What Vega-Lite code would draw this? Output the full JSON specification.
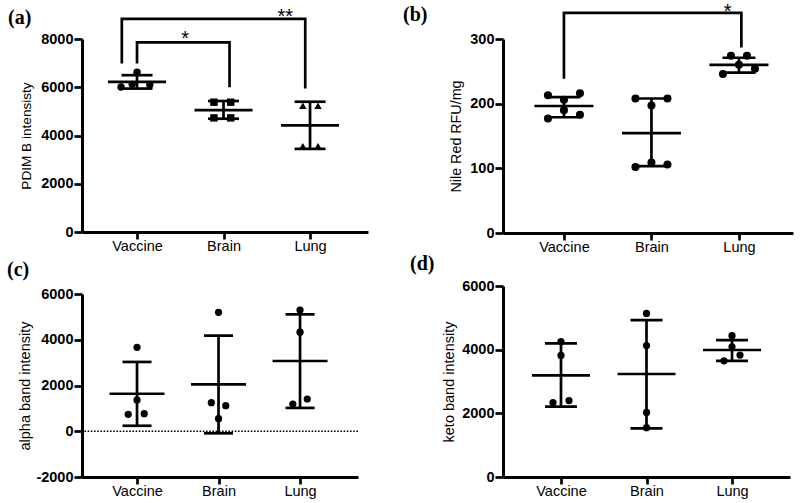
{
  "$schema": "https://vega.github.io/schema/vega-lite/v6.json",
  "autosize": {"type": "none"},
  "padding": {"left": 82, "top": 39, "right": 718, "bottom": 464},
  "background": "white",
  "spacing": 35,
  "config": {
    "view": {"stroke": null},
    "axis": {"grid": false, "domainColor": "black", "domainWidth": 3, "tickColor": "black", "tickWidth": 2.7, "tickSize": 8, "labelColor": "black", "labelFont": "Liberation Sans", "labelFontSize": 14.5, "titleFont": "Liberation Sans", "titleFontSize": 14.5, "titleFontWeight": "normal", "titleColor": "black", "labelPadding": 1},
    "axisY": {"labelFontWeight": "bold", "format": "d"},
    "axisX": {"labelPadding": 0, "tickSize": 7, "labelAngle": 0},
    "title": {"font": "Liberation Serif", "fontWeight": "bold", "fontSize": 20, "anchor": "start", "frame": "group", "baseline": "alphabetic", "offset": 6, "color": "black"}
  },
  "hconcat": [
    {
      "bounds": "flush",
      "spacing": 62,
      "vconcat": [
        {
          "width": 286, "height": 193,
          "title": {"text": "(a)", "dx": -74, "dy": 27},
          "data": {"values": [
            {"k": "sd", "group": "Vaccine", "v": 5945, "v2": 6500},
            {"k": "sd", "group": "Brain", "v": 4695, "v2": 5430},
            {"k": "sd", "group": "Lung", "v": 3445, "v2": 5400},
            {"k": "mean", "group": "Vaccine", "v": 6220},
            {"k": "mean", "group": "Brain", "v": 5050},
            {"k": "mean", "group": "Lung", "v": 4420},
            {"k": "cap", "group": "Vaccine", "v": 5945},
            {"k": "cap", "group": "Vaccine", "v": 6500},
            {"k": "cap", "group": "Brain", "v": 4695},
            {"k": "cap", "group": "Brain", "v": 5430},
            {"k": "cap", "group": "Lung", "v": 3445},
            {"k": "cap", "group": "Lung", "v": 5400},
            {"k": "pt", "group": "Vaccine", "dx": 0, "v": 6620},
            {"k": "pt", "group": "Vaccine", "dx": -2, "v": 6010},
            {"k": "pt", "group": "Vaccine", "dx": -0.6, "v": 6120},
            {"k": "pt", "group": "Vaccine", "dx": 1.6, "v": 6100},
            {"k": "pt", "group": "Brain", "dx": -1.2, "v": 5380},
            {"k": "pt", "group": "Brain", "dx": 0.9, "v": 5380},
            {"k": "pt", "group": "Brain", "dx": -1.2, "v": 4730},
            {"k": "pt", "group": "Brain", "dx": 0.9, "v": 4730},
            {"k": "pt", "group": "Lung", "dx": -0.9, "v": 5230},
            {"k": "pt", "group": "Lung", "dx": 1, "v": 5230},
            {"k": "pt", "group": "Lung", "dx": -0.9, "v": 3560},
            {"k": "pt", "group": "Lung", "dx": 1, "v": 3560},
            {"k": "br", "id": "VL", "o": 1, "group": "Vaccine", "dx": -1.9, "v": 7042},
            {"k": "br", "id": "VL", "o": 2, "group": "Vaccine", "dx": -1.9, "v": 8833},
            {"k": "br", "id": "VL", "o": 3, "group": "Lung", "dx": -0.6, "v": 8833},
            {"k": "br", "id": "VL", "o": 4, "group": "Lung", "dx": -0.6, "v": 6000},
            {"k": "br", "id": "VB", "o": 1, "group": "Vaccine", "dx": 0, "v": 7042},
            {"k": "br", "id": "VB", "o": 2, "group": "Vaccine", "dx": 0, "v": 7862},
            {"k": "br", "id": "VB", "o": 3, "group": "Brain", "dx": 0.75, "v": 7862},
            {"k": "br", "id": "VB", "o": 4, "group": "Brain", "dx": 0.75, "v": 6054},
            {"k": "star", "group": "Lung", "dx": -3.1, "v": 8663, "t": "**"},
            {"k": "star", "group": "Vaccine", "dx": 6, "v": 7760, "t": "*"}
          ]},
          "encoding": {"y": {"field": "v", "type": "quantitative", "scale": {"domain": [0, 8000], "nice": false, "zero": false}, "axis": {"values": [0, 2000, 4000, 6000, 8000], "labelFontWeight": "bold", "title": "PDIM B intensisty", "titleX": -49, "titleFontSize": 13.6}}},
          "layer": [
            {"transform": [{"filter": "datum.k == 'sd'"}], "mark": {"type": "rule", "strokeWidth": 2.7, "color": "black"},
             "encoding": {"x": {"field": "group", "type": "nominal", "sort": ["Vaccine", "Brain", "Lung"], "scale": {"type": "point", "padding": 0.653, "align": 0.487}, "axis": {"title": null}}, "y2": {"field": "v2"}}},
            {"transform": [{"filter": "datum.k == 'mean'"}], "mark": {"type": "tick", "orient": "horizontal", "size": 58, "thickness": 2.7, "color": "black", "opacity": 1},
             "encoding": {"x": {"field": "group", "type": "nominal", "sort": ["Vaccine", "Brain", "Lung"], "scale": {"type": "point", "padding": 0.653, "align": 0.487}, "axis": {"title": null}}}},
            {"transform": [{"filter": "datum.k == 'cap'"}], "mark": {"type": "tick", "orient": "horizontal", "size": 31, "thickness": 2.7, "color": "black", "opacity": 1},
             "encoding": {"x": {"field": "group", "type": "nominal", "sort": ["Vaccine", "Brain", "Lung"], "scale": {"type": "point", "padding": 0.653, "align": 0.487}, "axis": {"title": null}}}},
            {"transform": [{"filter": "datum.k == 'pt'"}], "mark": {"type": "point", "filled": true, "size": 55, "color": "black", "opacity": 1},
             "encoding": {"x": {"field": "group", "type": "nominal", "sort": ["Vaccine", "Brain", "Lung"], "scale": {"type": "point", "padding": 0.653, "align": 0.487}, "axis": {"title": null}},
               "xOffset": {"field": "dx", "type": "quantitative", "scale": {"domain": [-1, 1], "range": [-8, 8]}},
               "shape": {"field": "group", "type": "nominal", "scale": {"domain": ["Vaccine", "Brain", "Lung"], "range": ["circle", "square", "triangle-up"]}, "legend": null}}},
            {"transform": [{"filter": "datum.k == 'br'"}], "mark": {"type": "line", "strokeWidth": 2.7, "color": "black", "strokeJoin": "miter", "strokeCap": "square"},
             "encoding": {"x": {"field": "group", "type": "nominal", "sort": ["Vaccine", "Brain", "Lung"], "scale": {"type": "point", "padding": 0.653, "align": 0.487}, "axis": {"title": null}},
               "xOffset": {"field": "dx", "type": "quantitative", "scale": {"domain": [-1, 1], "range": [-8, 8]}},
               "detail": {"field": "id"}, "order": {"field": "o"}}},
            {"transform": [{"filter": "datum.k == 'star'"}], "mark": {"type": "text", "fontSize": 20, "font": "Liberation Sans", "baseline": "alphabetic", "align": "center", "color": "black"},
             "encoding": {"x": {"field": "group", "type": "nominal", "sort": ["Vaccine", "Brain", "Lung"], "scale": {"type": "point", "padding": 0.653, "align": 0.487}, "axis": {"title": null}},
               "xOffset": {"field": "dx", "type": "quantitative", "scale": {"domain": [-1, 1], "range": [-8, 8]}},
               "text": {"field": "t"}}}
          ]
        },
        {
          "width": 276, "height": 183,
          "title": {"text": "(c)", "dx": -75, "dy": 0},
          "data": {"values": [
            {"k": "zero", "v": 0},
            {"k": "sd", "group": "Vaccine", "v": 240, "v2": 3030},
            {"k": "sd", "group": "Brain", "v": -90, "v2": 4180},
            {"k": "sd", "group": "Lung", "v": 1020, "v2": 5110},
            {"k": "mean", "group": "Vaccine", "v": 1640},
            {"k": "mean", "group": "Brain", "v": 2050},
            {"k": "mean", "group": "Lung", "v": 3070},
            {"k": "cap", "group": "Vaccine", "v": 240},
            {"k": "cap", "group": "Vaccine", "v": 3030},
            {"k": "cap", "group": "Brain", "v": -90},
            {"k": "cap", "group": "Brain", "v": 4180},
            {"k": "cap", "group": "Lung", "v": 1020},
            {"k": "cap", "group": "Lung", "v": 5110},
            {"k": "pt", "group": "Vaccine", "dx": 0, "v": 3670},
            {"k": "pt", "group": "Vaccine", "dx": 0, "v": 1370},
            {"k": "pt", "group": "Vaccine", "dx": -1.1, "v": 740},
            {"k": "pt", "group": "Vaccine", "dx": 0.9, "v": 770},
            {"k": "pt", "group": "Brain", "dx": 0, "v": 5200},
            {"k": "pt", "group": "Brain", "dx": -0.9, "v": 1250},
            {"k": "pt", "group": "Brain", "dx": 0.9, "v": 1120},
            {"k": "pt", "group": "Brain", "dx": 0, "v": 550},
            {"k": "pt", "group": "Lung", "dx": 0, "v": 5300},
            {"k": "pt", "group": "Lung", "dx": 0, "v": 4330},
            {"k": "pt", "group": "Lung", "dx": -0.9, "v": 1190},
            {"k": "pt", "group": "Lung", "dx": 0.9, "v": 1410}
          ]},
          "encoding": {"y": {"field": "v", "type": "quantitative", "scale": {"domain": [-2000, 6000], "nice": false, "zero": false}, "axis": {"values": [-2000, 0, 2000, 4000, 6000], "labelExpr": "'' + datum.value", "labelFontWeight": "bold", "title": "alpha band intensity", "titleX": -50}}},
          "layer": [
            {"transform": [{"filter": "datum.k == 'zero'"}], "mark": {"type": "rule", "strokeWidth": 1.6, "strokeDash": [1.6, 1.6], "color": "black"}, "encoding": {}},
            {"transform": [{"filter": "datum.k == 'sd'"}], "mark": {"type": "rule", "strokeWidth": 2.7, "color": "black"},
             "encoding": {"x": {"field": "group", "type": "nominal", "sort": ["Vaccine", "Brain", "Lung"], "scale": {"type": "point", "padding": 0.693, "align": 0.487}, "axis": {"title": null}}, "y2": {"field": "v2"}}},
            {"transform": [{"filter": "datum.k == 'mean'"}], "mark": {"type": "tick", "orient": "horizontal", "size": 55, "thickness": 2.7, "color": "black", "opacity": 1},
             "encoding": {"x": {"field": "group", "type": "nominal", "sort": ["Vaccine", "Brain", "Lung"], "scale": {"type": "point", "padding": 0.693, "align": 0.487}, "axis": {"title": null}}}},
            {"transform": [{"filter": "datum.k == 'cap'"}], "mark": {"type": "tick", "orient": "horizontal", "size": 29, "thickness": 2.7, "color": "black", "opacity": 1},
             "encoding": {"x": {"field": "group", "type": "nominal", "sort": ["Vaccine", "Brain", "Lung"], "scale": {"type": "point", "padding": 0.693, "align": 0.487}, "axis": {"title": null}}}},
            {"transform": [{"filter": "datum.k == 'pt'"}], "mark": {"type": "point", "shape": "circle", "filled": true, "size": 52, "color": "black", "opacity": 1},
             "encoding": {"x": {"field": "group", "type": "nominal", "sort": ["Vaccine", "Brain", "Lung"], "scale": {"type": "point", "padding": 0.693, "align": 0.487}, "axis": {"title": null}},
               "xOffset": {"field": "dx", "type": "quantitative", "scale": {"domain": [-1, 1], "range": [-8, 8]}}}}
          ]
        }
      ]
    },
    {
      "bounds": "flush",
      "spacing": 53,
      "vconcat": [
        {
          "width": 290, "height": 194,
          "title": {"text": "(b)", "dx": -100, "dy": 29},
          "data": {"values": [
            {"k": "sd", "group": "Vaccine", "v": 179, "v2": 210},
            {"k": "sd", "group": "Brain", "v": 103.5, "v2": 208},
            {"k": "sd", "group": "Lung", "v": 248, "v2": 271},
            {"k": "mean", "group": "Vaccine", "v": 196.4},
            {"k": "mean", "group": "Brain", "v": 154.5},
            {"k": "mean", "group": "Lung", "v": 260},
            {"k": "cap", "group": "Vaccine", "v": 179},
            {"k": "cap", "group": "Vaccine", "v": 210},
            {"k": "cap", "group": "Brain", "v": 103.5},
            {"k": "cap", "group": "Brain", "v": 208},
            {"k": "cap", "group": "Lung", "v": 248},
            {"k": "cap", "group": "Lung", "v": 271},
            {"k": "pt", "group": "Vaccine", "dx": -2, "v": 213},
            {"k": "pt", "group": "Vaccine", "dx": 2, "v": 216},
            {"k": "pt", "group": "Vaccine", "dx": 0, "v": 206},
            {"k": "pt", "group": "Vaccine", "dx": 0, "v": 190},
            {"k": "pt", "group": "Vaccine", "dx": -2, "v": 177},
            {"k": "pt", "group": "Vaccine", "dx": 2, "v": 183},
            {"k": "pt", "group": "Brain", "dx": -2, "v": 208},
            {"k": "pt", "group": "Brain", "dx": 2, "v": 208},
            {"k": "pt", "group": "Brain", "dx": 0, "v": 197},
            {"k": "pt", "group": "Brain", "dx": -2, "v": 102},
            {"k": "pt", "group": "Brain", "dx": 0, "v": 109},
            {"k": "pt", "group": "Brain", "dx": 2, "v": 106},
            {"k": "pt", "group": "Lung", "dx": -2, "v": 246},
            {"k": "pt", "group": "Lung", "dx": -1, "v": 274},
            {"k": "pt", "group": "Lung", "dx": 1, "v": 274},
            {"k": "pt", "group": "Lung", "dx": 2, "v": 254},
            {"k": "pt", "group": "Lung", "dx": 0, "v": 260},
            {"k": "br", "id": "VL", "o": 1, "group": "Vaccine", "dx": 0, "v": 240.5},
            {"k": "br", "id": "VL", "o": 2, "group": "Vaccine", "dx": 0, "v": 340.5},
            {"k": "br", "id": "VL", "o": 3, "group": "Lung", "dx": 0.3, "v": 340.5},
            {"k": "br", "id": "VL", "o": 4, "group": "Lung", "dx": 0.3, "v": 289},
            {"k": "star", "group": "Lung", "dx": -1.4, "v": 332.5, "t": "*"}
          ]},
          "encoding": {"y": {"field": "v", "type": "quantitative", "scale": {"domain": [0, 300], "nice": false, "zero": false}, "axis": {"values": [0, 100, 200, 300], "labelFontWeight": "bold", "title": "Nile Red RFU/mg", "titleX": -40, "titleFontSize": 14.3}}},
          "layer": [
            {"transform": [{"filter": "datum.k == 'sd'"}], "mark": {"type": "rule", "strokeWidth": 2.7, "color": "black"},
             "encoding": {"x": {"field": "group", "type": "nominal", "sort": ["Vaccine", "Brain", "Lung"], "scale": {"type": "point", "padding": 0.657, "align": 0.53}, "axis": {"title": null}}, "y2": {"field": "v2"}}},
            {"transform": [{"filter": "datum.k == 'mean'"}], "mark": {"type": "tick", "orient": "horizontal", "size": 59, "thickness": 2.7, "color": "black", "opacity": 1},
             "encoding": {"x": {"field": "group", "type": "nominal", "sort": ["Vaccine", "Brain", "Lung"], "scale": {"type": "point", "padding": 0.657, "align": 0.53}, "axis": {"title": null}}}},
            {"transform": [{"filter": "datum.k == 'cap'"}], "mark": {"type": "tick", "orient": "horizontal", "size": 33, "thickness": 2.7, "color": "black", "opacity": 1},
             "encoding": {"x": {"field": "group", "type": "nominal", "sort": ["Vaccine", "Brain", "Lung"], "scale": {"type": "point", "padding": 0.657, "align": 0.53}, "axis": {"title": null}}}},
            {"transform": [{"filter": "datum.k == 'pt'"}], "mark": {"type": "point", "shape": "circle", "filled": true, "size": 65, "color": "black", "opacity": 1},
             "encoding": {"x": {"field": "group", "type": "nominal", "sort": ["Vaccine", "Brain", "Lung"], "scale": {"type": "point", "padding": 0.657, "align": 0.53}, "axis": {"title": null}},
               "xOffset": {"field": "dx", "type": "quantitative", "scale": {"domain": [-1, 1], "range": [-8, 8]}}}},
            {"transform": [{"filter": "datum.k == 'br'"}], "mark": {"type": "line", "strokeWidth": 2.7, "color": "black", "strokeJoin": "miter", "strokeCap": "square"},
             "encoding": {"x": {"field": "group", "type": "nominal", "sort": ["Vaccine", "Brain", "Lung"], "scale": {"type": "point", "padding": 0.657, "align": 0.53}, "axis": {"title": null}},
               "xOffset": {"field": "dx", "type": "quantitative", "scale": {"domain": [-1, 1], "range": [-8, 8]}},
               "detail": {"field": "id"}, "order": {"field": "o"}}},
            {"transform": [{"filter": "datum.k == 'star'"}], "mark": {"type": "text", "fontSize": 20, "font": "Liberation Sans", "baseline": "alphabetic", "align": "center", "color": "black"},
             "encoding": {"x": {"field": "group", "type": "nominal", "sort": ["Vaccine", "Brain", "Lung"], "scale": {"type": "point", "padding": 0.657, "align": 0.53}, "axis": {"title": null}},
               "xOffset": {"field": "dx", "type": "quantitative", "scale": {"domain": [-1, 1], "range": [-8, 8]}},
               "text": {"field": "t"}}}
          ]
        },
        {
          "width": 287, "height": 191,
          "title": {"text": "(d)", "dx": -93, "dy": 2},
          "data": {"values": [
            {"k": "sd", "group": "Vaccine", "v": 2210, "v2": 4200},
            {"k": "sd", "group": "Brain", "v": 1530, "v2": 4930},
            {"k": "sd", "group": "Lung", "v": 3650, "v2": 4300},
            {"k": "mean", "group": "Vaccine", "v": 3195},
            {"k": "mean", "group": "Brain", "v": 3235},
            {"k": "mean", "group": "Lung", "v": 3990},
            {"k": "cap", "group": "Vaccine", "v": 2210},
            {"k": "cap", "group": "Vaccine", "v": 4200},
            {"k": "cap", "group": "Brain", "v": 1530},
            {"k": "cap", "group": "Brain", "v": 4930},
            {"k": "cap", "group": "Lung", "v": 3650},
            {"k": "cap", "group": "Lung", "v": 4300},
            {"k": "pt", "group": "Vaccine", "dx": 0, "v": 4250},
            {"k": "pt", "group": "Vaccine", "dx": 0, "v": 3820},
            {"k": "pt", "group": "Vaccine", "dx": -1, "v": 2340},
            {"k": "pt", "group": "Vaccine", "dx": 1, "v": 2400},
            {"k": "pt", "group": "Brain", "dx": 0, "v": 5140},
            {"k": "pt", "group": "Brain", "dx": 0, "v": 4130},
            {"k": "pt", "group": "Brain", "dx": 0, "v": 2030},
            {"k": "pt", "group": "Brain", "dx": 0, "v": 1550},
            {"k": "pt", "group": "Lung", "dx": 0, "v": 4440},
            {"k": "pt", "group": "Lung", "dx": 0, "v": 4090},
            {"k": "pt", "group": "Lung", "dx": -1, "v": 3650},
            {"k": "pt", "group": "Lung", "dx": 1, "v": 3830}
          ]},
          "encoding": {"y": {"field": "v", "type": "quantitative", "scale": {"domain": [0, 6000], "nice": false, "zero": false}, "axis": {"values": [0, 2000, 4000, 6000], "labelFontWeight": "bold", "title": "keto band intensity", "titleX": -47}}},
          "layer": [
            {"transform": [{"filter": "datum.k == 'sd'"}], "mark": {"type": "rule", "strokeWidth": 2.7, "color": "black"},
             "encoding": {"x": {"field": "group", "type": "nominal", "sort": ["Vaccine", "Brain", "Lung"], "scale": {"type": "point", "padding": 0.678, "align": 0.5}, "axis": {"title": null}}, "y2": {"field": "v2"}}},
            {"transform": [{"filter": "datum.k == 'mean'"}], "mark": {"type": "tick", "orient": "horizontal", "size": 58, "thickness": 2.7, "color": "black", "opacity": 1},
             "encoding": {"x": {"field": "group", "type": "nominal", "sort": ["Vaccine", "Brain", "Lung"], "scale": {"type": "point", "padding": 0.678, "align": 0.5}, "axis": {"title": null}}}},
            {"transform": [{"filter": "datum.k == 'cap'"}], "mark": {"type": "tick", "orient": "horizontal", "size": 32, "thickness": 2.7, "color": "black", "opacity": 1},
             "encoding": {"x": {"field": "group", "type": "nominal", "sort": ["Vaccine", "Brain", "Lung"], "scale": {"type": "point", "padding": 0.678, "align": 0.5}, "axis": {"title": null}}}},
            {"transform": [{"filter": "datum.k == 'pt'"}], "mark": {"type": "point", "shape": "circle", "filled": true, "size": 52, "color": "black", "opacity": 1},
             "encoding": {"x": {"field": "group", "type": "nominal", "sort": ["Vaccine", "Brain", "Lung"], "scale": {"type": "point", "padding": 0.678, "align": 0.5}, "axis": {"title": null}},
               "xOffset": {"field": "dx", "type": "quantitative", "scale": {"domain": [-1, 1], "range": [-8, 8]}}}}
          ]
        }
      ]
    }
  ]
}
